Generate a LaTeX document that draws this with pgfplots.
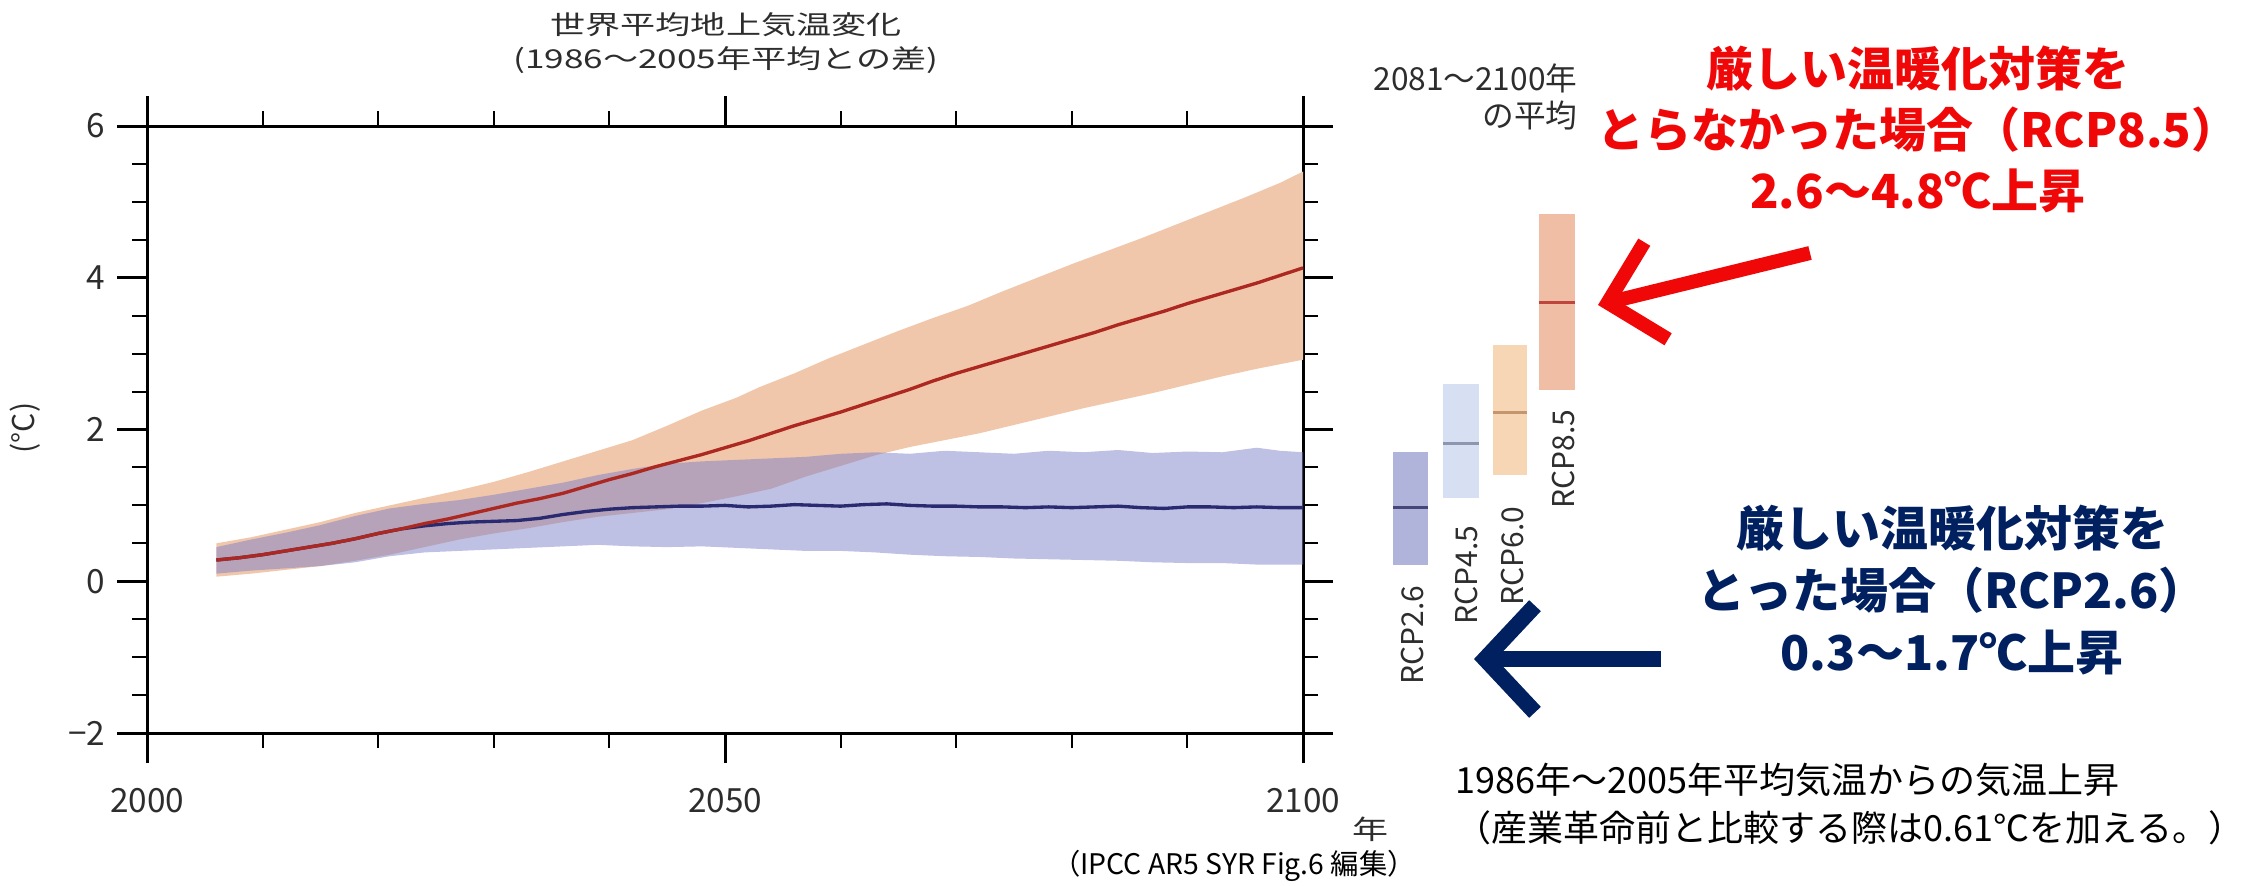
\documentclass[border=0pt]{standalone}
\usepackage{fontspec}
\setmainfont{Noto Sans CJK JP}
\newfontfamily\titlefont[FakeStretch=1.35]{Noto Sans CJK JP}
\usepackage{pgfplots}
\pgfplotsset{compat=1.18}
\usepackage{pgfplotstable}
\usepgfplotslibrary{fillbetween}
\usetikzlibrary{arrows.meta}

\definecolor{oband}{RGB}{241,199,171}
\definecolor{bband}{RGB}{125,129,201}
\definecolor{rline}{RGB}{172,40,32}
\definecolor{bline}{RGB}{42,42,112}
\definecolor{cA}{RGB}{176,180,218}
\definecolor{cB}{RGB}{214,224,242}
\definecolor{cC}{RGB}{247,214,182}
\definecolor{cD}{RGB}{240,190,165}
\definecolor{mA}{RGB}{70,70,120}
\definecolor{mB}{RGB}{140,150,175}
\definecolor{mC}{RGB}{195,150,110}
\definecolor{mD}{RGB}{190,70,60}
\definecolor{jred}{RGB}{240,8,8}
\definecolor{jnavy}{RGB}{0,32,96}
\definecolor{dgray}{RGB}{45,45,45}

\pgfplotstableread{
x y
2006 0.50
2009 0.58
2012 0.68
2015 0.78
2018 0.90
2021 1.00
2024 1.10
2027 1.20
2030 1.31
2033 1.44
2036 1.58
2039 1.72
2042 1.86
2045 2.05
2048 2.25
2051 2.42
2053 2.56
2056 2.74
2059 2.94
2062 3.12
2065 3.30
2068 3.47
2071 3.63
2074 3.82
2077 4.00
2080 4.18
2083 4.35
2086 4.52
2089 4.70
2092 4.88
2095 5.06
2098 5.25
2100 5.40
}\oup

\pgfplotstableread{
x y
2006 0.06
2009 0.10
2012 0.15
2015 0.20
2018 0.27
2021 0.35
2024 0.45
2027 0.55
2030 0.63
2033 0.70
2036 0.78
2039 0.85
2042 0.90
2045 0.95
2048 1.03
2051 1.12
2054 1.22
2057 1.38
2060 1.52
2063 1.66
2066 1.77
2069 1.86
2072 1.95
2075 2.06
2078 2.17
2081 2.28
2084 2.38
2087 2.48
2090 2.59
2093 2.70
2096 2.80
2100 2.92
}\olo

\pgfplotstableread{
x y
2006 0.45
2009 0.55
2012 0.64
2015 0.74
2018 0.86
2021 0.96
2024 1.02
2027 1.07
2030 1.14
2033 1.22
2036 1.30
2039 1.40
2042 1.48
2045 1.55
2048 1.58
2051 1.60
2054 1.62
2057 1.64
2060 1.68
2063 1.70
2066 1.68
2069 1.72
2072 1.70
2075 1.68
2078 1.72
2081 1.70
2084 1.73
2087 1.69
2090 1.71
2093 1.70
2096 1.76
2098 1.72
2100 1.70
}\bup

\pgfplotstableread{
x y
2006 0.10
2009 0.14
2012 0.17
2015 0.20
2018 0.25
2021 0.33
2024 0.38
2027 0.40
2030 0.42
2033 0.44
2036 0.46
2039 0.48
2042 0.46
2045 0.45
2048 0.46
2051 0.44
2054 0.42
2057 0.40
2060 0.40
2063 0.38
2066 0.35
2069 0.33
2072 0.32
2075 0.30
2078 0.29
2081 0.28
2084 0.27
2087 0.25
2090 0.24
2093 0.24
2096 0.22
2100 0.22
}\blo

\pgfplotstableread{
x y
2006 0.28
2008 0.31
2010 0.35
2012 0.40
2014 0.45
2016 0.50
2018 0.56
2020 0.63
2022 0.69
2024 0.76
2026 0.82
2028 0.89
2030 0.96
2032 1.03
2034 1.09
2036 1.16
2038 1.25
2040 1.34
2042 1.42
2044 1.51
2046 1.59
2048 1.67
2050 1.76
2052 1.85
2054 1.95
2056 2.05
2058 2.14
2060 2.23
2062 2.33
2064 2.43
2066 2.53
2068 2.64
2070 2.74
2072 2.83
2074 2.92
2076 3.01
2078 3.10
2080 3.19
2082 3.28
2084 3.38
2086 3.47
2088 3.56
2090 3.66
2092 3.75
2094 3.84
2096 3.93
2098 4.03
2100 4.13
}\rmean

\pgfplotstableread{
x y
2006 0.28
2008 0.31
2010 0.35
2012 0.40
2014 0.45
2016 0.50
2018 0.56
2020 0.63
2022 0.69
2024 0.73
2026 0.76
2028 0.78
2030 0.79
2032 0.80
2034 0.83
2036 0.88
2038 0.92
2040 0.95
2042 0.97
2044 0.98
2046 0.99
2048 0.99
2050 1.00
2052 0.98
2054 0.99
2056 1.01
2058 1.00
2060 0.99
2062 1.01
2064 1.02
2066 1.00
2068 0.99
2070 0.99
2072 0.98
2074 0.98
2076 0.97
2078 0.98
2080 0.97
2082 0.98
2084 0.99
2086 0.97
2088 0.96
2090 0.98
2092 0.98
2094 0.97
2096 0.98
2098 0.97
2100 0.97
}\bmean

\begin{document}
\begin{tikzpicture}
\begin{axis}[
  at={(44.1pt,45.6pt)}, anchor=south west,
  scale only axis, width=346.8pt, height=182.1pt,
  xmin=2000, xmax=2100, ymin=-2, ymax=6,
  xtick={2000,2050,2100}, xticklabels={2000,2050,2100},
  minor xtick={2010,2020,2030,2040,2060,2070,2080,2090},
  ytick={-2,0,2,4,6}, yticklabels={−2,0,2,4,6},
  minor ytick={-1.5,-1,-0.5,0.5,1,1.5,2.5,3,3.5,4.5,5,5.5},
  tick align=outside,
  major tick length=9pt, minor tick length=4.5pt,
  axis line style={line width=0.9pt},
  every tick/.append style={black, line width=0.9pt},
  minor tick style={line width=0.6pt},
  ticklabel style={font=\fontsize{10}{12}\selectfont, text=dgray},
  xticklabel style={yshift=-4pt},
  clip=false,
]
\addplot[draw=none, name path=oup, forget plot] table {\oup};
\addplot[draw=none, name path=olo, forget plot] table {\olo};
\addplot[fill=oband, draw=none, forget plot] fill between[of=oup and olo];
\addplot[draw=none, name path=bup, forget plot] table {\bup};
\addplot[draw=none, name path=blo, forget plot] table {\blo};
\addplot[fill=bband, fill opacity=0.5, draw=none, forget plot] fill between[of=bup and blo];
\addplot[bline, line width=1pt, forget plot] table {\bmean};
\addplot[rline, line width=1pt, forget plot] table {\rmean};

% 2081-2100 average bars
\addplot[fill=cA, draw=none, forget plot] coordinates {(2107.8,0.22) (2110.8,0.22) (2110.8,1.70) (2107.8,1.70)} -- cycle;
\addplot[fill=cB, draw=none, forget plot] coordinates {(2112.1,1.10) (2115.2,1.10) (2115.2,2.60) (2112.1,2.60)} -- cycle;
\addplot[fill=cC, draw=none, forget plot] coordinates {(2116.4,1.40) (2119.4,1.40) (2119.4,3.12) (2116.4,3.12)} -- cycle;
\addplot[fill=cD, draw=none, forget plot] coordinates {(2120.4,2.52) (2123.5,2.52) (2123.5,4.84) (2120.4,4.84)} -- cycle;
\addplot[mA, line width=0.9pt, forget plot] coordinates {(2107.8,0.97) (2110.8,0.97)};
\addplot[mB, line width=0.9pt, forget plot] coordinates {(2112.1,1.82) (2115.2,1.82)};
\addplot[mC, line width=0.9pt, forget plot] coordinates {(2116.4,2.22) (2119.4,2.22)};
\addplot[mD, line width=0.9pt, forget plot] coordinates {(2120.4,3.68) (2123.5,3.68)};
\end{axis}

\begin{scope}[x=0.3pt,y=-0.3pt,shift={(0pt,265.5pt)}]
% title
\node[font=\titlefont\fontsize{7.8}{9}\selectfont, text=dgray] at (726,25) {世界平均地上気温変化};
\node[font=\titlefont\fontsize{7.8}{9}\selectfont, text=dgray] at (726,60) {(1986～2005年平均との差)};
\node[rotate=90, font=\fontsize{9}{10}\selectfont, text=dgray] at (25,428) {(°C)};
\node[font=\titlefont\fontsize{8}{9}\selectfont, text=dgray] at (1370,829) {年};
\node[font=\fontsize{8.5}{10}\selectfont] at (1234,866) {（IPCC AR5 SYR Fig.6 編集）};

% right-hand block
\node[anchor=east, align=right, font=\fontsize{9.5}{11.1}\selectfont, text=dgray, inner sep=0pt] at (1578,97) {2081～2100年\\の平均};
\node[rotate=90, anchor=east, inner sep=0pt, font=\fontsize{9}{10}\selectfont, text=dgray] at (1412,585) {RCP2.6};
\node[rotate=90, anchor=east, inner sep=0pt, font=\fontsize{9}{10}\selectfont, text=dgray] at (1466,525) {RCP4.5};
\node[rotate=90, anchor=east, inner sep=0pt, font=\fontsize{9}{10}\selectfont, text=dgray] at (1512,506) {RCP6.0};
\node[rotate=90, anchor=east, inner sep=0pt, font=\fontsize{9}{10}\selectfont, text=dgray] at (1563,409) {RCP8.5};

\node[align=center, inner sep=0pt, font=\bfseries\fontsize{14.1}{18.3}\selectfont, text=jred] at (1918,129)
  {厳しい温暖化対策を\\とらなかった場合（RCP8.5）\\2.6～4.8℃上昇};
\node[align=center, inner sep=0pt, font=\bfseries\fontsize{14.4}{18.6}\selectfont, text=jnavy] at (1952,590)
  {厳しい温暖化対策を\\とった場合（RCP2.6）\\0.3～1.7℃上昇};

\draw[jred, line width=4.2pt, -{Straight Barb[length=15pt,width=30pt,line width=4.2pt]}] (1810,253) -- (1598,305);
\draw[jnavy, line width=4.8pt, -{Straight Barb[length=15pt,width=32pt,line width=4.8pt]}] (1661,659) -- (1474,659);

\node[anchor=west, align=left, font=\fontsize{10.8}{14.4}\selectfont, inner sep=0pt] at (1455,804)
  {1986年～2005年平均気温からの気温上昇\\（産業革命前と比較する際は0.61℃を加える。）};
\end{scope}

\pgfresetboundingbox
\path[use as bounding box] (0pt,0pt) rectangle (672.3pt,265.5pt);
\end{tikzpicture}
\end{document}
